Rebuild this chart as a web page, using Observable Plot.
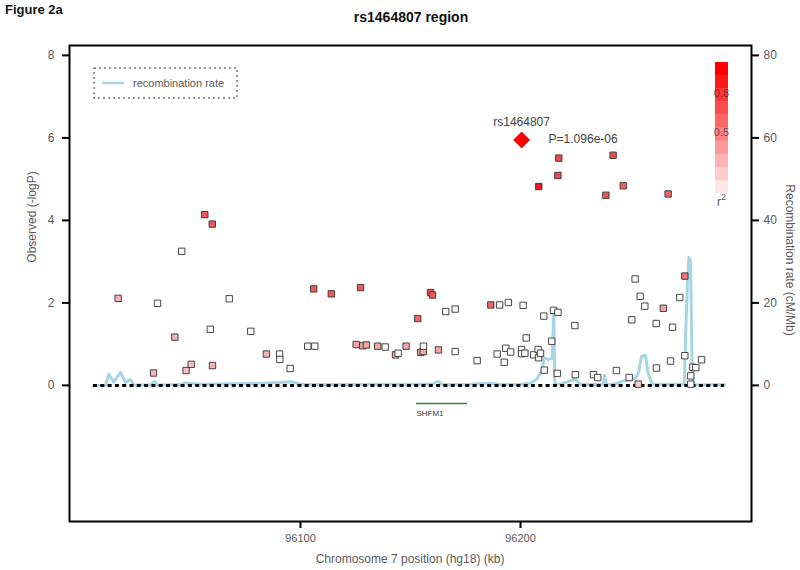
<!DOCTYPE html>
<html>
<head>
<meta charset="utf-8">
<script src="https://cdn.jsdelivr.net/npm/d3@7"></script>
<script src="https://cdn.jsdelivr.net/npm/@observablehq/plot@0.6"></script>
<style>
  html, body { margin: 0; padding: 0; background: #fff; }
  #chart { width: 800px; height: 570px; }
</style>
</head>
<body>
<div id="chart"></div>
<script>
// ---- Data ----
const figureLabel = "Figure 2a";
const chartTitle = "rs1464807 region";
const xLabel = "Chromosome 7 position (hg18) (kb)";
const yLabel = "Observed (-logP)";
const y2Label = "Recombination rate (cM/Mb)";

// SNP positions (kb), -log10 P, r^2 with lead SNP
const snpPos = [96017.1,96033.2,96035.0,96042.9,96046.0,96048.0,96050.3,96056.5,96059.0,96059.9,96060.0,96067.6,96077.4,96084.5,96090.5,96090.6,96095.3,96103.3,96106.0,96106.5,96114.0,96125.3,96127.3,96128.3,96129.9,96135.1,96138.5,96143.2,96144.4,96148.0,96153.3,96154.7,96155.8,96155.9,96159.1,96160.0,96162.7,96166.0,96170.3,96170.3,96180.3,96186.5,96189.4,96190.5,96192.6,96193.3,96194.5,96195.5,96200.5,96200.5,96201.2,96202.0,96202.6,96206.0,96208.0,96208.2,96208.3,96209.1,96210.6,96210.8,96214.2,96215.0,96216.7,96217.0,96217.0,96217.4,96224.7,96224.9,96233.2,96235.1,96238.8,96242.1,96243.6,96246.7,96249.4,96250.6,96252.1,96253.5,96254.4,96256.5,96261.7,96261.8,96264.9,96267.1,96268.2,96269.1,96272.4,96274.7,96274.7,96277.4,96277.4,96278.3,96279.7,96282.3];
const snpLogP = [2.11,0.30,1.99,1.17,3.25,0.36,0.51,4.14,1.36,3.91,0.48,2.10,1.31,0.76,0.76,0.63,0.41,0.95,2.34,0.95,2.22,0.99,2.37,0.96,0.98,0.95,0.93,0.74,0.78,0.95,1.62,0.80,0.82,0.95,2.25,2.19,0.86,1.79,1.85,0.82,0.60,1.95,0.76,1.95,0.56,0.90,2.01,0.81,0.87,0.77,1.94,0.78,1.15,0.74,0.87,0.67,4.82,0.78,1.68,0.37,1.07,1.82,0.29,1.77,5.09,5.51,1.45,0.26,0.26,0.19,4.61,5.58,0.36,4.84,0.19,1.59,2.58,0.03,2.16,1.92,1.50,0.42,1.87,4.64,0.59,1.41,2.13,2.65,0.72,0.23,0.03,0.44,0.43,0.62];
const snpR2 = [0.30,0.30,0.02,0.30,0.02,0.25,0.25,0.65,0.02,0.65,0.30,0.02,0.02,0.30,0.02,0.02,0.02,0.02,0.65,0.02,0.65,0.35,0.65,0.35,0.35,0.35,0.02,0.35,0.02,0.35,0.60,0.35,0.35,0.02,0.65,0.65,0.35,0.02,0.02,0.02,0.02,0.60,0.02,0.02,0.02,0.02,0.02,0.02,0.02,0.02,0.02,0.02,0.02,0.02,0.02,0.02,0.90,0.02,0.02,0.02,0.02,0.02,0.02,0.02,0.70,0.70,0.02,0.02,0.02,0.02,0.65,0.70,0.02,0.60,0.02,0.02,0.02,0.20,0.02,0.02,0.02,0.02,0.35,0.60,0.02,0.02,0.02,0.55,0.02,0.02,0.02,0.02,0.02,0.02];

// Lead SNP
const leadName = "rs1464807";
const leadPos = 96200.5;
const leadLogP = 5.95;
const leadPLabel = "P=1.096e-06";

// Recombination rate (cM/Mb)
const recPos = [96005.9,96011.4,96012.9,96015.1,96018.2,96020.5,96022.7,96024.2,96031.8,96033.6,96035.0,96045.5,96047.7,96054.5,96068.2,96081.8,96090.9,96095.5,96100.0,96113.6,96136.4,96154.5,96160.0,96162.3,96164.5,96177.3,96186.4,96190.9,96200.0,96204.5,96207.3,96209.9,96210.6,96212.7,96214.4,96215.1,96215.6,96218.2,96225.0,96227.3,96236.4,96237.7,96238.2,96239.1,96243.2,96247.7,96252.3,96253.6,96255.0,96256.8,96258.0,96259.9,96274.5,96275.0,96275.9,96276.5,96277.3,96278.0,96278.8,96292.7];
const recRate = [0.0,0.0,2.7,0.8,3.2,0.7,1.4,0.1,0.1,1.0,0.1,0.2,0.6,0.3,0.4,0.5,0.7,0.9,0.3,0.2,0.3,0.3,0.4,1.0,0.2,0.3,0.5,0.2,0.3,0.5,1.5,3.6,6.7,6.3,6.5,17.4,0.4,0.3,1.5,0.2,0.2,0.3,2.4,0.1,0.4,1.2,1.8,3.0,7.0,7.3,3.0,0.3,0.3,11.3,25.0,31.0,30.0,4.5,0.1,0.2];

// Gene
const geneName = "SHFM1";
const geneStart = 96152.7;
const geneEnd = 96175.9;

// Baseline extent
const baseExtent = [96005.9, 96292.7];

// Axis ticks
const xTicks = [96100, 96200];
const yTicks = [0, 2, 4, 6, 8];
const recScale = 10; // right axis = left * 10

// r^2 legend bands & labels
const r2Bands = d3.range(0, 10).map(i => i / 10);
const r2Labels = [0.8, 0.5];

// ---- Build ----
const snps = snpPos.map((p, i) => ({pos: p, logp: snpLogP[i], r2: snpR2[i]}));
const rec = recPos.map((p, i) => ({pos: p, rate: recRate[i] / recScale}));
const color = d3.scaleLinear().domain([0, 1]).range(["#ffffff", "#ff0000"]);
const pointColor = d3.scaleLinear().domain([0, 1]).range(["#ffffff", "#e00000"]);

const W = 800, H = 570;
const mL = 69, mR = 49, mT = 45, mB = 49;
const FONT = "'Liberation Sans', Arial, Helvetica, sans-serif";

const plot = Plot.plot({
  width: W, height: H,
  marginLeft: mL, marginRight: mR, marginTop: mT, marginBottom: mB,
  style: {fontFamily: FONT, fontSize: "11px", color: "#5a5a5a", background: "white"},
  x: {domain: [95995, 96305], label: null},
  y: {domain: [-3.3, 8.24], label: null},
  marks: [
    Plot.line(rec, {x: "pos", y: "rate", stroke: "#a6d6e4", strokeWidth: 3, strokeLinejoin: "round"}),
    Plot.ruleY([0], {x1: baseExtent[0], x2: baseExtent[1], stroke: "black", strokeWidth: 3, strokeDasharray: "4,3.3"}),
    Plot.ruleY([-0.44], {x1: geneStart, x2: geneEnd, stroke: "#2f8a2f", strokeWidth: 1.5}),
    Plot.text([geneName], {x: geneStart, y: -0.68, text: d => d, textAnchor: "start", fontSize: 8, fill: "#333"}),
    Plot.dot(snps, {x: "pos", y: "logp", symbol: "square", r: 3.6, fill: d => pointColor(d.r2), stroke: "#333", strokeWidth: 0.9}),
    Plot.dot([leadLogP], {x: leadPos, y: d => d, symbol: "diamond2", r: 7.2, fill: "#ff0000", stroke: "#b00000", strokeWidth: 0.8}),
    Plot.text([leadName], {x: leadPos, y: leadLogP, text: d => d, dy: -18, fontSize: 12, fill: "#444"}),
    Plot.text([leadPLabel], {x: leadPos, y: leadLogP, text: d => d, dx: 27, dy: -1, textAnchor: "start", fontSize: 12, fill: "#444"}),
    Plot.axisX({ticks: xTicks, tickFormat: d => String(d), tickSize: 7, tickPadding: 6, label: null, fontSize: 11}),
    Plot.axisY({ticks: yTicks, tickFormat: d => String(d), tickSize: 7, tickPadding: 8, label: null, fontSize: 12}),
    Plot.axisY({ticks: yTicks, anchor: "right", tickFormat: d => String(d * recScale), tickSize: 7, tickPadding: 5, label: null, fontSize: 12}),
    Plot.frame({stroke: "black", strokeWidth: 2})
  ]
});

document.getElementById("chart").appendChild(plot);

const svg = d3.select(plot);
// Tick marks in black
svg.selectAll("[aria-label$='tick'] path").attr("stroke", "black").attr("stroke-width", 2);

// Titles
svg.append("text").attr("x", 5).attr("y", 14).attr("text-anchor", "start")
  .attr("font-family", "'Liberation Sans Narrow', 'Liberation Sans', Arial, sans-serif")
  .attr("font-weight", "bold").attr("font-size", 13).attr("fill", "#111").text(figureLabel);
svg.append("text").attr("x", 411).attr("y", 22).attr("text-anchor", "middle")
  .attr("font-family", "'Liberation Sans Narrow', 'Liberation Sans', Arial, sans-serif")
  .attr("font-weight", "bold").attr("font-size", 14).attr("fill", "#111").text(chartTitle);

// Axis labels
svg.append("text").attr("x", 410).attr("y", 563).attr("text-anchor", "middle")
  .attr("font-family", FONT).attr("font-size", 12).attr("fill", "#5a5a5a").text(xLabel);
svg.append("text").attr("transform", "translate(36,217) rotate(-90)").attr("text-anchor", "middle")
  .attr("font-family", FONT).attr("font-size", 12).attr("fill", "#5a5a5a").text(yLabel);
svg.append("text").attr("transform", "translate(786,260) rotate(90)").attr("text-anchor", "middle")
  .attr("font-family", FONT).attr("font-size", 12).attr("fill", "#5a5a5a").text(y2Label);

// Recombination legend box
const lg = svg.append("g");
lg.append("rect").attr("x", 94).attr("y", 68).attr("width", 143).attr("height", 30)
  .attr("fill", "none").attr("stroke", "#333").attr("stroke-width", 1).attr("stroke-dasharray", "2,3");
lg.append("line").attr("x1", 102).attr("x2", 124).attr("y1", 83).attr("y2", 83)
  .attr("stroke", "#a6d6e4").attr("stroke-width", 2.5);
lg.append("text").attr("x", 133).attr("y", 83).attr("dy", "0.35em").attr("text-anchor", "start")
  .attr("font-family", FONT).attr("font-size", 11).attr("fill", "#5a5a5a").text("recombination rate");

// r^2 colour bar
const cb = svg.append("g");
const cbX = 715, cbW = 13, cbTop = 62, cbBot = 193;
const bandH = (cbBot - cbTop) / r2Bands.length;
r2Bands.forEach((b, i) => {
  cb.append("rect").attr("x", cbX).attr("width", cbW)
    .attr("y", cbBot - (i + 1) * bandH).attr("height", bandH + 0.3)
    .attr("fill", color(b + 0.1)).attr("stroke", "none");
});
r2Labels.forEach(v => {
  cb.append("text").attr("x", cbX + cbW / 2).attr("y", cbBot - v * (cbBot - cbTop) + 5).attr("dy", "0.35em")
    .attr("text-anchor", "middle").attr("font-family", FONT).attr("font-size", 11)
    .attr("fill", "#333").attr("fill-opacity", 0.75).text(String(v));
});
const r2t = cb.append("text").attr("x", cbX + cbW / 2).attr("y", 206).attr("text-anchor", "middle")
  .attr("font-family", FONT).attr("font-size", 12).attr("fill", "#5a5a5a");
r2t.append("tspan").text("r");
r2t.append("tspan").attr("dy", -6).attr("font-size", 9).text("2");
</script>
</body>
</html>
